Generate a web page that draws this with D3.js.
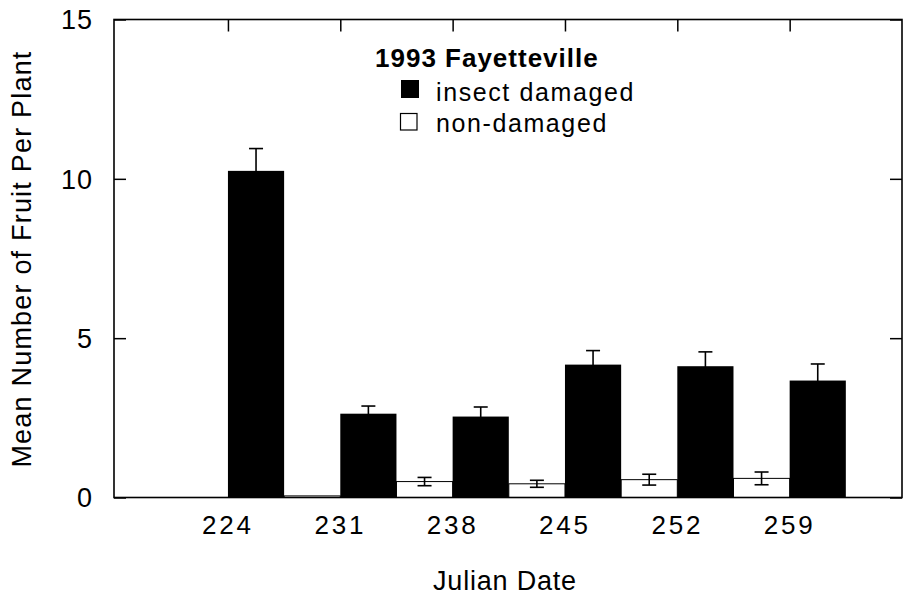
<!DOCTYPE html>
<html>
<head>
<meta charset="utf-8">
<script src="https://cdn.jsdelivr.net/npm/d3@7"></script>
<style>
  html, body { margin: 0; padding: 0; background: #fff; }
  svg { display: block; }
  text { font-family: "Liberation Sans", Arial, Helvetica, sans-serif; fill: #000; }
</style>
</head>
<body>
<svg id="chart" width="905" height="597"></svg>
<script>
// ---- data ----
const dates = [224, 231, 238, 245, 252, 259];
const damaged = [10.25, 2.63, 2.54, 4.17, 4.12, 3.67];
const damagedSE = [0.70, 0.24, 0.30, 0.44, 0.45, 0.52];
const nonDamaged = [0, 0.05, 0.50, 0.43, 0.56, 0.60];
const nonDamagedSE = [0, 0, 0.13, 0.11, 0.17, 0.20];
const yTicks = [0, 5, 10, 15];
const legendTitle = "1993 Fayetteville";
const seriesNames = ["insect damaged", "non-damaged"];

// ---- layout ----
const svg = d3.select("#chart");
const L = 114, R = 902, T = 19.5, B = 497.5;
const x = d3.scaleLinear().domain([216.9, 266.0]).range([L, R]);
const y = d3.scaleLinear().domain([0, 15]).range([B, T]);
const halfDays = 3.5;   // each bar width in days

// ---- bars ----
const g = svg.append("g");
// non-damaged (white) bars, left of date
g.selectAll("rect.nd").data(dates).join("rect")
  .attr("class", "nd")
  .attr("x", d => x(d - halfDays))
  .attr("width", d => x(d) - x(d - halfDays))
  .attr("y", (d, i) => y(nonDamaged[i]))
  .attr("height", (d, i) => y(0) - y(nonDamaged[i]))
  .attr("fill", "#fff")
  .attr("stroke", (d, i) => nonDamaged[i] > 0 ? "#000" : "none")
  .attr("stroke-width", 1);
// damaged (black) bars, right of date
g.selectAll("rect.dm").data(dates).join("rect")
  .attr("class", "dm")
  .attr("x", d => x(d))
  .attr("width", d => x(d + halfDays) - x(d))
  .attr("y", (d, i) => y(damaged[i]))
  .attr("height", (d, i) => y(0) - y(damaged[i]))
  .attr("fill", "#000");

// ---- error bars ----
function errBars(vals, ses, offset, cls) {
  const data = dates.map((d, i) => ({ d, v: vals[i], s: ses[i] })).filter(o => o.s > 0);
  const cx = o => x(o.d + offset);
  const eg = g.append("g").attr("stroke", "#000").attr("stroke-width", 1.6);
  eg.selectAll("line.v" + cls).data(data).join("line")
    .attr("x1", cx).attr("x2", cx)
    .attr("y1", o => y(o.v - o.s)).attr("y2", o => y(o.v + o.s));
  eg.selectAll("line.t" + cls).data(data).join("line")
    .attr("x1", o => cx(o) - 7).attr("x2", o => cx(o) + 7)
    .attr("y1", o => y(o.v + o.s)).attr("y2", o => y(o.v + o.s));
  eg.selectAll("line.b" + cls).data(data).join("line")
    .attr("x1", o => cx(o) - 7).attr("x2", o => cx(o) + 7)
    .attr("y1", o => y(o.v - o.s)).attr("y2", o => y(o.v - o.s));
}
errBars(nonDamaged, nonDamagedSE, -halfDays / 2, "nd");
errBars(damaged, damagedSE, halfDays / 2, "dm");

// ---- axes / frame ----
const tickLen = 12;
const ax = svg.append("g");
// left axis
ax.append("g").attr("transform", `translate(${L},0)`)
  .call(d3.axisRight(y).tickValues(yTicks).tickSize(tickLen).tickFormat(""))
  .call(s => s.select(".domain").remove())
  .call(s => s.selectAll("line").attr("stroke", "#000").attr("stroke-width", 1.5));
// right axis
ax.append("g").attr("transform", `translate(${R},0)`)
  .call(d3.axisLeft(y).tickValues(yTicks).tickSize(tickLen).tickFormat(""))
  .call(s => s.select(".domain").remove())
  .call(s => s.selectAll("line").attr("stroke", "#000").attr("stroke-width", 1.5));
// top axis
ax.append("g").attr("transform", `translate(0,${T})`)
  .call(d3.axisBottom(x).tickValues(dates).tickSize(tickLen).tickFormat(""))
  .call(s => s.select(".domain").remove())
  .call(s => s.selectAll("line").attr("stroke", "#000").attr("stroke-width", 1.5));
// frame
ax.append("rect").attr("x", L).attr("y", T).attr("width", R - L).attr("height", B - T)
  .attr("fill", "none").attr("stroke", "#000").attr("stroke-width", 1.6);

// bottom tick labels
svg.append("g").selectAll("text").data(dates).join("text")
  .attr("x", d => x(d))
  .attr("y", 534)
  .attr("text-anchor", "middle")
  .attr("font-size", 26)
  .attr("letter-spacing", 2.8)
  .text(d => d);

// left tick labels
svg.append("g").selectAll("text").data(yTicks).join("text")
  .attr("x", 93)
  .attr("y", d => y(d))
  .attr("dy", "0.36em")
  .attr("text-anchor", "end")
  .attr("font-size", 27)
  .attr("letter-spacing", 1)
  .text(d => d);

// axis titles
svg.append("text")
  .attr("x", 505).attr("y", 590)
  .attr("text-anchor", "middle")
  .attr("font-size", 27)
  .attr("letter-spacing", 0.8)
  .text("Julian Date");
svg.append("text")
  .attr("transform", "translate(31,259) rotate(-90)")
  .attr("text-anchor", "middle")
  .attr("font-size", 27)
  .attr("letter-spacing", 1.2)
  .text("Mean Number of Fruit Per Plant");

// ---- legend ----
const lg = svg.append("g");
lg.append("text").attr("x", 375).attr("y", 67)
  .attr("font-size", 26).attr("font-weight", "bold").attr("letter-spacing", 1)
  .text(legendTitle);
lg.append("rect").attr("x", 401).attr("y", 80).attr("width", 18).attr("height", 18)
  .attr("fill", "#000");
lg.append("text").attr("x", 436).attr("y", 100.5)
  .attr("font-size", 25).attr("letter-spacing", 1.6)
  .text(seriesNames[0]);
lg.append("rect").attr("x", 400.5).attr("y", 113.5).attr("width", 16.5).attr("height", 16.5)
  .attr("fill", "#fff").attr("stroke", "#000").attr("stroke-width", 1.2);
lg.append("text").attr("x", 436).attr("y", 131.5)
  .attr("font-size", 25).attr("letter-spacing", 1.6)
  .text(seriesNames[1]);
</script>
</body>
</html>
